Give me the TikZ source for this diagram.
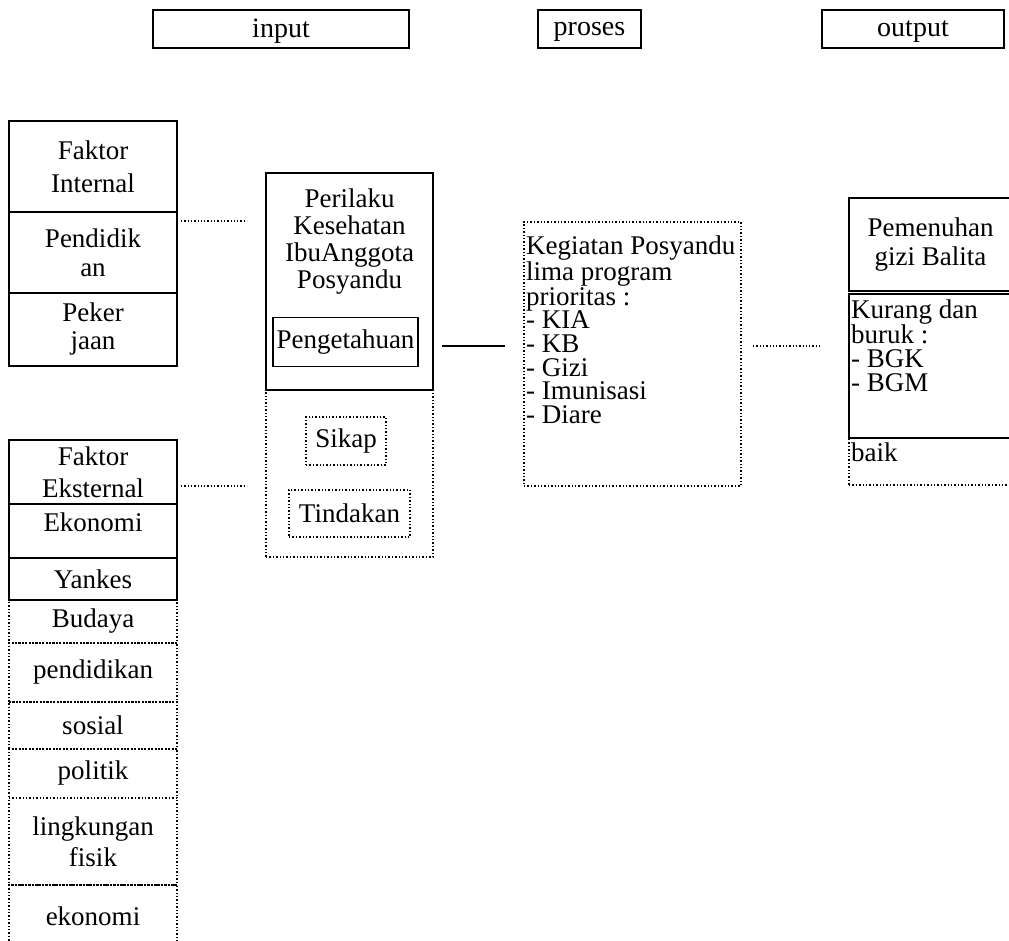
\documentclass[tikz,border=0pt]{standalone}
\usepackage{fontspec}
\setmainfont{Liberation Serif}
\tikzset{
  txt/.style={inner sep=0pt, align=center, font=\fontsize{27}{29}\selectfont},
  box/.style={txt, draw, line width=1.7pt},
  dotbox/.style={txt, draw, dotted, line width=1.4pt},
  hdr/.style={box, minimum height=38, text depth=1pt, font=\fontsize{28}{30}\selectfont},
  link/.style={line width=1.3pt},
}
\begin{document}
\begin{tikzpicture}[x=1pt, y=-1pt]
  \useasboundingbox (0,0) rectangle (1009,941);
  % --- header ---
  \node[hdr, minimum width=256] (inp) at (281,29) {input};
  \node[hdr, minimum width=103] (pro) at (589.5,29) {proses};
  \node[hdr, minimum width=182] (out) at (913,29) {output};
  % --- faktor internal ---
  \node[box, minimum width=168, minimum height=91, font=\fontsize{27}{33}\selectfont] (fi) at (93,166.5) {Faktor\\Internal};
  \node[box, minimum width=168, minimum height=81] (pend) at (93,252.5) {Pendidik\\an};
  \node[box, minimum width=168, minimum height=73, font=\fontsize{27}{28}\selectfont] (pek) at (93,329.5) {Peker\\jaan};
  % --- faktor eksternal ---
  \node[box, minimum width=168, minimum height=64, font=\fontsize{27}{32}\selectfont] (fe) at (93,472) {Faktor\\Eksternal};
  \node[box, minimum width=168, minimum height=54, text depth=17pt] (eko) at (93,531) {Ekonomi};
  \node[box, minimum width=168, minimum height=42] (yan) at (93,579) {Yankes};
  \node[dotbox, minimum width=168, minimum height=43] (bud) at (93,621.5) {Budaya};
  \node[dotbox, minimum width=168, minimum height=59] (pdd) at (93,672.5) {pendidikan};
  \node[dotbox, minimum width=168, minimum height=47] (sos) at (93,725.5) {sosial};
  \node[dotbox, minimum width=168, minimum height=49] (pol) at (93,773.5) {politik};
  \node[dotbox, minimum width=168, minimum height=87, font=\fontsize{27}{31}\selectfont] (lfis) at (93,841.5) {lingkungan\\fisik};
  \node[dotbox, minimum width=168, minimum height=62] (ekon) at (93,916) {ekonomi};
  % --- perilaku ---
  \node[box, minimum width=167, minimum height=217] (pbox) at (349.5,281.5) {};
  \node[txt, font=\fontsize{27}{27}\selectfont] (pteks) at (349.5,241.5) {Perilaku\\Kesehatan\\IbuAnggota\\Posyandu};
  \node[box, minimum width=145, minimum height=49] (peng) at (345.5,342) {Pengetahuan};
  \node[dotbox, minimum width=167, minimum height=167] (pdot) at (349.5,473.5) {};
  \node[dotbox, minimum width=80, minimum height=48] (sik) at (346,441) {Sikap};
  \node[dotbox, minimum width=121, minimum height=47] (tin) at (349.5,513.5) {Tindakan};
  % --- kegiatan posyandu ---
  \node[dotbox, minimum width=217, minimum height=264] (keg) at (632.5,354) {};
  \node[txt, anchor=west, align=left, font=\fontsize{27}{23.7}\selectfont] (kegteks) at (526,330)
    {Kegiatan Posyandu\\lima program\\prioritas :\\- KIA\\- KB\\- Gizi\\- Imunisasi\\- Diare};
  % --- pemenuhan gizi ---
  \node[box, minimum width=163, minimum height=93] (gizi) at (930.5,244.5) {Pemenuhan\\gizi Balita};
  \node[box, minimum width=163, minimum height=144] (kur) at (930.5,366) {};
  \node[txt, anchor=west, align=left, font=\fontsize{27}{23.7}\selectfont] (kurteks) at (851,345.5)
    {Kurang dan\\buruk :\\- BGK\\- BGM};
  \node[dotbox, minimum width=163, minimum height=47] (baik) at (930.5,461.5) {};
  \node[txt, anchor=west] (baikteks) at (851,452) {baik};
  % --- connectors ---
  \coordinate (l1a) at (181,221);
  \coordinate (l1b) at (247,221);
  \coordinate (l2a) at (181,486);
  \coordinate (l2b) at (247,486);
  \coordinate (l3a) at (442,346);
  \coordinate (l3b) at (505,346);
  \coordinate (l4a) at (753,346);
  \coordinate (l4b) at (822,346);
  \draw[link, dotted] (l1a) -- (l1b);
  \draw[link, dotted] (l2a) -- (l2b);
  \draw[link, line width=1.7pt] (l3a) -- (l3b);
  \draw[link, dotted] (l4a) -- (l4b);
\end{tikzpicture}
\end{document}
